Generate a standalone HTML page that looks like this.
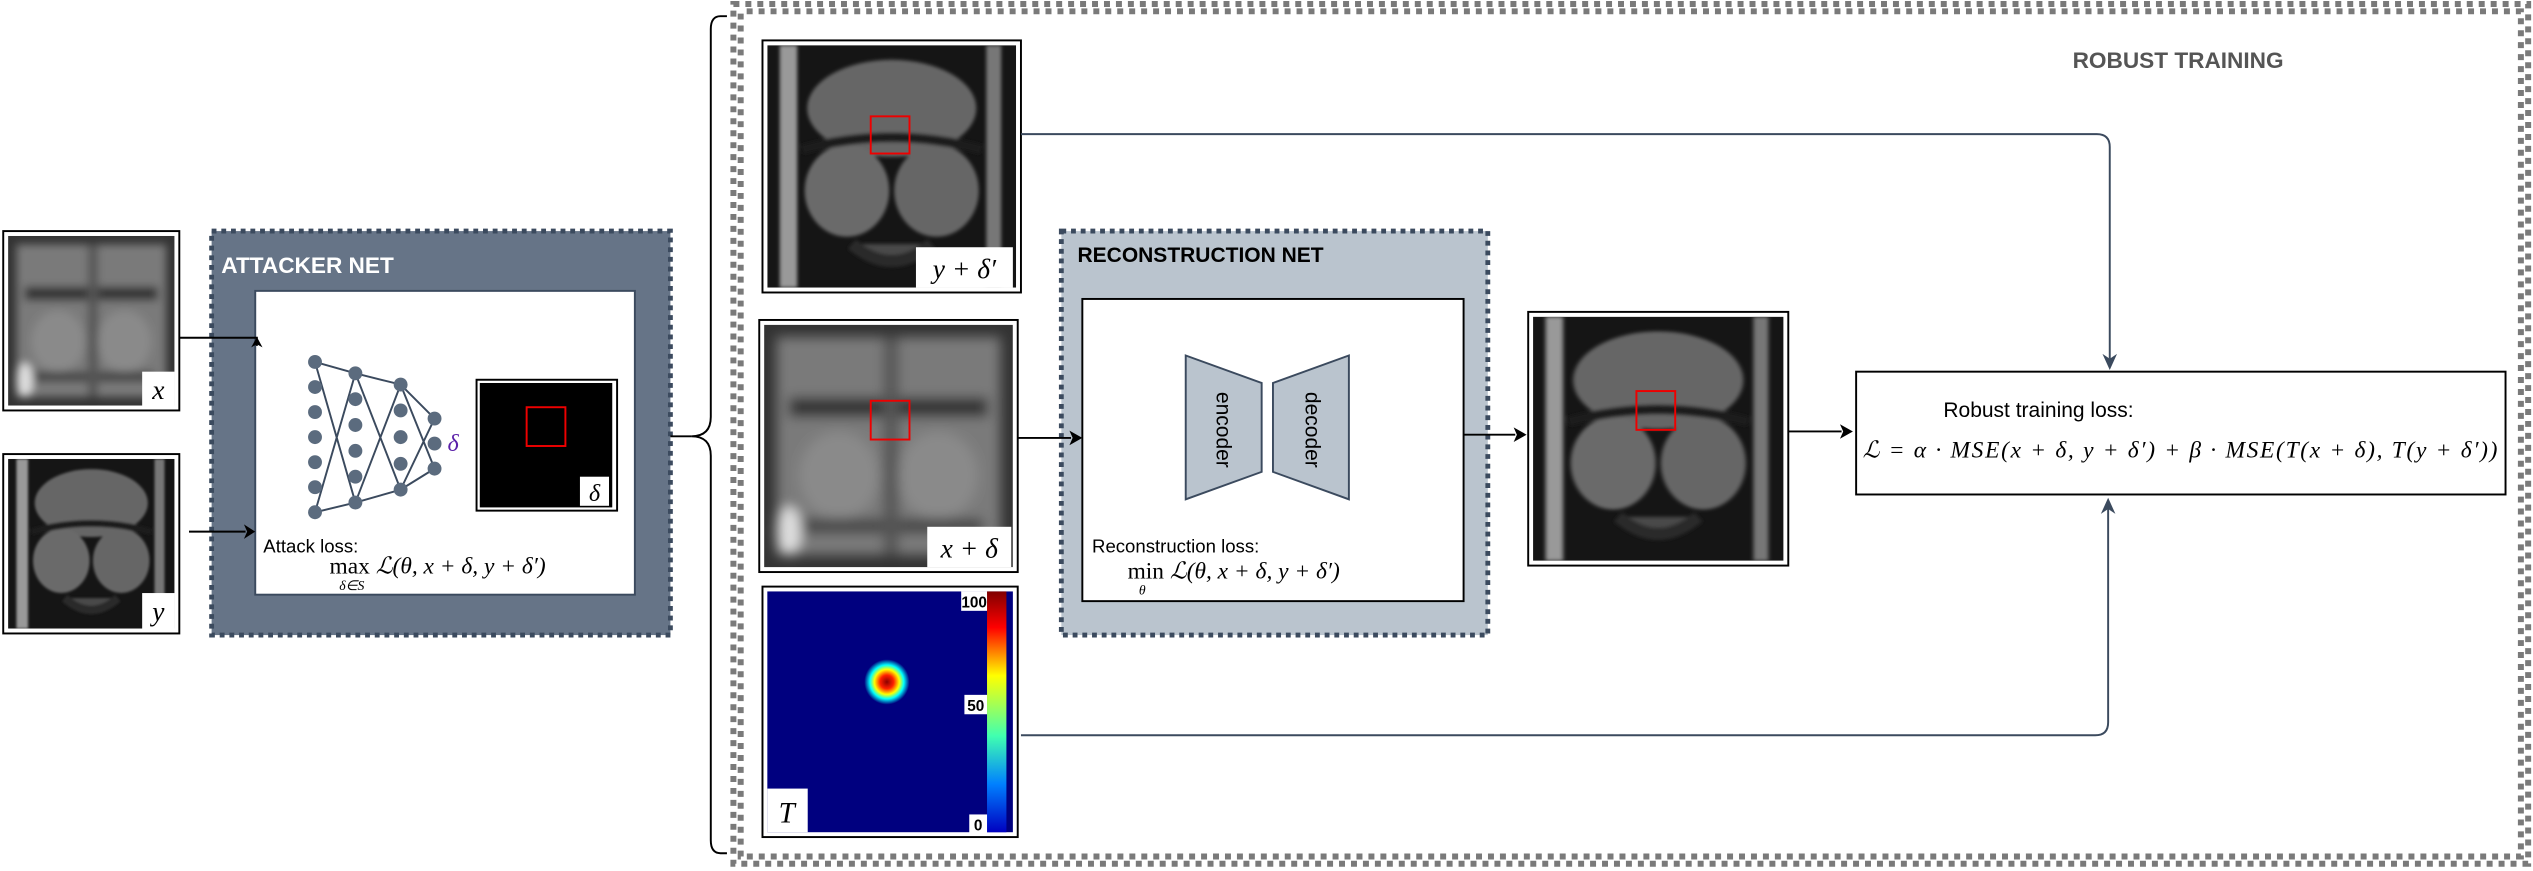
<!DOCTYPE html>
<html><head><meta charset="utf-8">
<style>
html,body{margin:0;padding:0;background:#fff;}
svg{display:block;}
text{font-family:"Liberation Sans",sans-serif;}
.m{font-family:"Liberation Serif",serif;font-style:italic;}
.r{font-family:"Liberation Serif",serif;}
</style></head>
<body>
<svg width="2533" height="871" viewBox="0 0 1568 539" preserveAspectRatio="none" xmlns="http://www.w3.org/2000/svg">
<defs>
  <radialGradient id="blob"><stop offset="0" stop-color="#8b0000"/><stop offset="0.3" stop-color="#ff2000"/><stop offset="0.55" stop-color="#ffff00"/><stop offset="0.75" stop-color="#00ffff"/><stop offset="1" stop-color="#00007f"/></radialGradient>
  <linearGradient id="cbar" x1="0" y1="0" x2="0" y2="1"><stop offset="0" stop-color="#800000"/><stop offset="0.15" stop-color="#ff0000"/><stop offset="0.35" stop-color="#ffff00"/><stop offset="0.6" stop-color="#40ffb0"/><stop offset="0.8" stop-color="#0080ff"/><stop offset="1" stop-color="#0000c0"/></linearGradient>
  <filter id="bl"><feGaussianBlur stdDeviation="2.5"/></filter>
  <filter id="bl1"><feGaussianBlur stdDeviation="0.8"/></filter>
  <symbol id="knee" viewBox="0 0 100 100" preserveAspectRatio="none">
    <rect width="100" height="100" fill="#151515"/>
    <g filter="url(#bl1)">
    <rect x="5" y="0" width="7" height="100" fill="#999"/>
    <rect x="88" y="0" width="6" height="100" fill="#777"/>
    <ellipse cx="50" cy="26" rx="34" ry="20" fill="#666"/>
    <ellipse cx="32" cy="60" rx="17" ry="19" fill="#6a6a6a"/>
    <ellipse cx="68" cy="60" rx="17" ry="19" fill="#666"/>
    <path d="M14 43 Q50 33 86 43" stroke="#1a1a1a" stroke-width="4" fill="none"/>
    <path d="M34 82 Q50 96 66 82" stroke="#2a2a2a" stroke-width="5" fill="#4a4a4a"/>
    </g>
  </symbol>
  <symbol id="blur" viewBox="0 0 100 100" preserveAspectRatio="none">
    <rect width="100" height="100" fill="#333"/>
    <g filter="url(#bl)">
    <rect x="5" y="5" width="90" height="90" fill="#7a7a7a"/>
    <rect x="10" y="30" width="80" height="8" fill="#333"/>
    <ellipse cx="30" cy="62" rx="16" ry="18" fill="#8a8a8a"/>
    <ellipse cx="70" cy="62" rx="16" ry="18" fill="#8a8a8a"/>
    <rect x="12" y="80" width="76" height="6" fill="#444"/>
    <rect x="48" y="5" width="6" height="90" fill="#555"/>
    <ellipse cx="10" cy="85" rx="5" ry="10" fill="#ddd"/>
    </g>
  </symbol>
</defs>

<!-- Robust training border -->
<rect x="454" y="2.5" width="1111" height="532" fill="none" stroke="#7a7a7a" stroke-width="3.7" stroke-dasharray="3.7 3.7"/>
<rect x="458.5" y="7" width="1102" height="523" fill="none" stroke="#7a7a7a" stroke-width="3.7" stroke-dasharray="3.7 3.7" stroke-dashoffset="3.7"/>
<text x="1283" y="42" font-size="14" font-weight="bold" fill="#555">ROBUST TRAINING</text>

<!-- x image -->
<rect x="2" y="143" width="109" height="111" fill="#fff" stroke="#000" stroke-width="1.2"/>
<use href="#blur" x="5" y="146" width="103" height="105"/>
<rect x="88" y="230" width="20" height="22" fill="#fff"/>
<text x="98" y="247" class="m" font-size="17" text-anchor="middle">x</text>
<!-- y image -->
<rect x="2" y="281" width="109" height="111" fill="#fff" stroke="#000" stroke-width="1.2"/>
<use href="#knee" x="5" y="284" width="103" height="105"/>
<rect x="88" y="367" width="20" height="23" fill="#fff"/>
<text x="98" y="384" class="m" font-size="17" text-anchor="middle">y</text>

<!-- Attacker net -->
<rect x="131" y="143" width="284" height="250" fill="#667487" stroke="#3b4a5e" stroke-width="3" stroke-dasharray="3 3"/>
<text x="137" y="169" font-size="14" font-weight="bold" fill="#fff">ATTACKER NET</text>
<rect x="158" y="180" width="235" height="188" fill="#fff" stroke="#3b4a5e" stroke-width="1.2"/>
<path d="M111 209 H159 V214" fill="none" stroke="#000" stroke-width="1.2"/>
<path d="M155.5 215 L159 208.5 L162.5 215 L159 213 Z" fill="#000"/>
<path d="M117 329 H152" stroke="#000" stroke-width="1.2"/>
<path d="M151 324.5 L158 329 L151 333.5 L153 329 Z" fill="#000"/>
<g stroke="#3b4a5e" stroke-width="1.2" fill="none">
<path d="M195 224 L220 231 M195 224 L220 311 M195 317 L220 231 M195 317 L220 311"/>
<path d="M220 231 L248 238 M220 231 L248 303 M220 311 L248 238 M220 311 L248 303"/>
<path d="M248 238 L269 259 M248 238 L269 290 M248 303 L269 259 M248 303 L269 290"/>
</g>
<g fill="#5b6b7e">
<circle cx="195" cy="224" r="4.3"/><circle cx="195" cy="239.5" r="4.3"/><circle cx="195" cy="255" r="4.3"/><circle cx="195" cy="270.5" r="4.3"/><circle cx="195" cy="286" r="4.3"/><circle cx="195" cy="301.5" r="4.3"/><circle cx="195" cy="317" r="4.3"/>
<circle cx="220" cy="231" r="4.3"/><circle cx="220" cy="247" r="4.3"/><circle cx="220" cy="263" r="4.3"/><circle cx="220" cy="279" r="4.3"/><circle cx="220" cy="295" r="4.3"/><circle cx="220" cy="311" r="4.3"/>
<circle cx="248" cy="238" r="4.3"/><circle cx="248" cy="254" r="4.3"/><circle cx="248" cy="270.5" r="4.3"/><circle cx="248" cy="287" r="4.3"/><circle cx="248" cy="303" r="4.3"/>
<circle cx="269" cy="259" r="4.3"/><circle cx="269" cy="274.5" r="4.3"/><circle cx="269" cy="290" r="4.3"/>
</g>
<text x="277" y="279" class="m" font-size="15" fill="#5a1fa8">δ</text>
<rect x="295" y="235" width="87" height="81" fill="#fff" stroke="#000" stroke-width="1.2"/>
<rect x="297" y="237" width="82" height="77" fill="#000"/>
<rect x="326" y="252" width="24" height="24" fill="none" stroke="#e00" stroke-width="1.2"/>
<rect x="359" y="295" width="18" height="18" fill="#fff"/>
<text x="368" y="310" class="m" font-size="15" text-anchor="middle">δ</text>
<text x="163" y="342" font-size="11.5">Attack loss:</text>
<text x="204" y="355" class="m" font-size="14.5"><tspan class="r" font-style="normal">max</tspan> ℒ(θ, x + δ, y + δ′)</text>
<text x="210" y="365" class="m" font-size="8.5">δ∈S</text>

<!-- brace -->
<path d="M415 270 H428" stroke="#000" stroke-width="1.2"/>
<path d="M450 10 H446 Q440 10 440 18 V258 Q440 270 428 270 Q440 270 440 282 V520 Q440 528 446 528 H450" fill="none" stroke="#000" stroke-width="1.2"/>

<!-- y+delta' image -->
<rect x="472" y="25" width="160" height="156" fill="#fff" stroke="#000" stroke-width="1.2"/>
<use href="#knee" x="475" y="28" width="154" height="150"/>
<rect x="539" y="72" width="24" height="23" fill="none" stroke="#e00" stroke-width="1.2"/>
<rect x="567" y="153" width="60" height="25" fill="#fff"/>
<text x="597" y="172" class="m" font-size="17" text-anchor="middle">y + δ′</text>
<!-- x+delta image -->
<rect x="470" y="198" width="160" height="156" fill="#fff" stroke="#000" stroke-width="1.2"/>
<use href="#blur" x="473" y="201" width="154" height="150"/>
<rect x="539" y="248" width="24" height="24" fill="none" stroke="#e00" stroke-width="1.2"/>
<rect x="574" y="326" width="52" height="25" fill="#fff"/>
<text x="600" y="345" class="m" font-size="17" text-anchor="middle">x + δ</text>
<!-- T image -->
<rect x="472" y="363" width="158" height="155" fill="#fff" stroke="#000" stroke-width="1.2"/>
<rect x="475" y="366" width="152" height="149" fill="#00007f"/>
<circle cx="549" cy="422" r="14" fill="url(#blob)"/>
<rect x="611" y="366" width="12" height="149" fill="url(#cbar)"/>
<rect x="595" y="366" width="16" height="12" fill="#fff"/><text x="603" y="376" font-size="9.5" font-weight="bold" text-anchor="middle">100</text>
<rect x="597" y="430" width="14" height="12" fill="#fff"/><text x="604" y="440" font-size="9.5" font-weight="bold" text-anchor="middle">50</text>
<rect x="600" y="504" width="11" height="12" fill="#fff"/><text x="605.5" y="514" font-size="9.5" font-weight="bold" text-anchor="middle">0</text>
<rect x="475" y="488" width="25" height="27" fill="#fff"/>
<text x="487" y="509" class="m" font-size="18" text-anchor="middle">T</text>

<!-- connectors -->
<path d="M632 83 H1298 Q1306 83 1306 91 V222" fill="none" stroke="#3b4a5e" stroke-width="1.2"/>
<path d="M1301.5 219 L1306 229 L1310.5 219 L1306 222 Z" fill="#3b4a5e"/>
<path d="M632 455 H1297 Q1305 455 1305 447 V315" fill="none" stroke="#3b4a5e" stroke-width="1.2"/>
<path d="M1300.5 318 L1305 308 L1309.5 318 L1305 315 Z" fill="#3b4a5e"/>

<!-- Reconstruction net -->
<rect x="657" y="143" width="264" height="250" fill="#bac4ce" stroke="#3b4a5e" stroke-width="3" stroke-dasharray="3 3"/>
<text x="667" y="162" font-size="13" font-weight="bold" fill="#000">RECONSTRUCTION NET</text>
<rect x="670" y="185" width="236" height="187" fill="#fff" stroke="#000" stroke-width="1.2"/>
<path d="M630 271 H663" stroke="#000" stroke-width="1.2"/>
<path d="M662 266.5 L670 271 L662 275.5 L664 271 Z" fill="#000"/>
<path d="M734 220 L781 237 L781 292 L734 309 Z" fill="#bac4ce" stroke="#3b4a5e" stroke-width="1.2"/>
<path d="M788 237 L835 220 L835 309 L788 292 Z" fill="#bac4ce" stroke="#3b4a5e" stroke-width="1.2"/>
<text transform="translate(753 266) rotate(90)" font-size="13" text-anchor="middle">encoder</text>
<text transform="translate(808 266) rotate(90)" font-size="13" text-anchor="middle">decoder</text>
<text x="676" y="342" font-size="11.5">Reconstruction loss:</text>
<text x="698" y="358" class="m" font-size="14.5"><tspan class="r" font-style="normal">min</tspan> ℒ(θ, x + δ, y + δ′)</text>
<text x="705" y="368" class="m" font-size="8.5">θ</text>
<path d="M906 269 H938" stroke="#000" stroke-width="1.2"/>
<path d="M937 264.5 L945 269 L937 273.5 L939 269 Z" fill="#000"/>

<!-- output image -->
<rect x="946" y="193" width="161" height="157" fill="#fff" stroke="#000" stroke-width="1.2"/>
<use href="#knee" x="949" y="196" width="155" height="151"/>
<rect x="1013" y="242" width="24" height="24" fill="none" stroke="#e00" stroke-width="1.2"/>
<path d="M1107 267 H1140" stroke="#000" stroke-width="1.2"/>
<path d="M1139 262.5 L1147 267 L1139 271.5 L1141 267 Z" fill="#000"/>

<!-- loss box -->
<rect x="1149" y="230" width="402" height="76" fill="#fff" stroke="#000" stroke-width="1.2"/>
<text x="1203" y="258" font-size="13">Robust training loss:</text>
<text x="1153" y="283" class="m" font-size="14.5" textLength="393">ℒ = α · MSE(x + δ, y + δ′) + β · MSE(T(x + δ), T(y + δ′))</text>
</svg>
</body></html>
